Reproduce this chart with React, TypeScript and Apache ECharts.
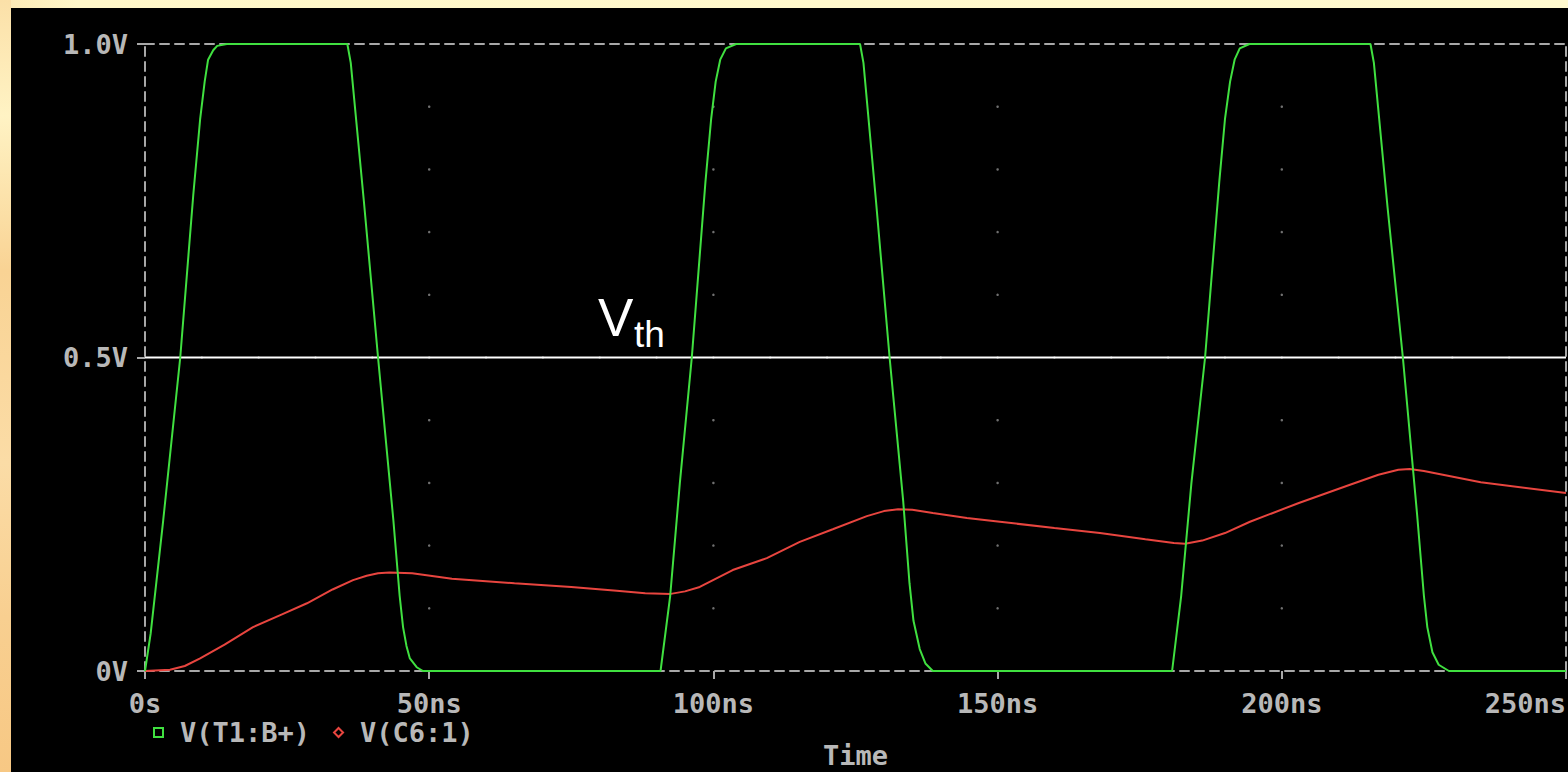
import { useEffect, useRef } from "react";
import * as echarts from "echarts";

// ---- data ----
const timeTicks = [0, 50, 100, 150, 200, 250]; // ns
const voltTicks = [0, 0.5, 1.0]; // V
const gridTimes = [50, 100, 150, 200];
const gridVolts = [0.1, 0.2, 0.3, 0.4, 0.6, 0.7, 0.8, 0.9];
const thresholdDotTimes = [10, 20, 30, 40, 50, 60, 70, 80, 90, 100, 110, 120, 130, 140, 150, 160, 170, 180, 190, 200, 210, 220, 230, 240];
const vth = 0.5;

const nameT1 = "V(T1:B+)";
const nameC6 = "V(C6:1)";

// V(T1:B+) [time ns, volts]
const vT1: [number, number][] = [
  [0, 0], [1, 0.06], [3.2, 0.24], [6.2, 0.5], [8.5, 0.76], [9.7, 0.88], [10.5, 0.94], [11.1, 0.975], [12, 0.99], [12.7, 0.997], [14.4, 1],
  [35.6, 1], [36.2, 0.97], [38.5, 0.75], [41, 0.5], [43.7, 0.24], [44.8, 0.12], [45.4, 0.07], [46, 0.04], [46.6, 0.02], [47.8, 0.006], [48.9, 0],
  [90.7, 0], [92.4, 0.12], [94.1, 0.3], [96.2, 0.5], [98.6, 0.78], [99.6, 0.88], [100.4, 0.94], [101.2, 0.975], [102.2, 0.993], [104, 1],
  [125.8, 1], [126.4, 0.97], [128.6, 0.75], [131, 0.5], [133.4, 0.27], [134.5, 0.14], [135.2, 0.08], [136.3, 0.035], [137.3, 0.012], [138.6, 0],
  [180.7, 0], [182.3, 0.12], [184.1, 0.3], [186.5, 0.5], [189, 0.78], [190, 0.88], [190.9, 0.94], [191.7, 0.975], [192.6, 0.993], [194.3, 1],
  [215.6, 1], [216.2, 0.97], [218.6, 0.74], [221.3, 0.5], [223.8, 0.25], [225, 0.12], [225.6, 0.07], [226.5, 0.03], [227.6, 0.01], [229.4, 0],
  [250, 0],
];

// V(C6:1) [time ns, volts]
const vC6: [number, number][] = [
  [0, 0], [4.4, 0.002], [7, 0.008], [9.7, 0.02], [14, 0.042], [19, 0.07], [24, 0.09], [28.5, 0.108], [33, 0.13], [36.6, 0.145],
  [39, 0.152], [41, 0.156], [43, 0.157], [47, 0.156], [54, 0.147], [65, 0.14], [75, 0.134], [83, 0.128], [88, 0.124], [92.5, 0.123],
  [95, 0.127], [97.6, 0.134], [103.4, 0.161], [109.4, 0.18], [115.2, 0.206], [121, 0.226], [127, 0.247], [130, 0.255], [132.5, 0.258],
  [135, 0.257], [138.6, 0.252], [144.6, 0.244], [150.4, 0.238], [160, 0.228], [168, 0.22], [176, 0.21], [181, 0.204], [183, 0.203],
  [186, 0.208], [190, 0.22], [194.4, 0.238], [203, 0.268], [212, 0.297], [217, 0.313], [220.5, 0.321], [222.5, 0.322], [225, 0.319],
  [235, 0.301], [250, 0.284],
];

const GREEN = "#40e040";
const RED = "#e8453f";
const FRAME = "#a8a8a8";
const LABEL = "#b8b8b8";
const MONO = "'DejaVu Sans Mono', 'Liberation Mono', monospace";

export default function App() {
  const ref = useRef<HTMLDivElement>(null);

  useEffect(() => {
    document.body.style.margin = "0";
    if (!ref.current) return;
    const chart = echarts.init(ref.current, undefined, { renderer: "svg" });

    const dots: [number, number][] = [];
    gridTimes.forEach((t) => gridVolts.forEach((v) => dots.push([t, v])));
    thresholdDotTimes.forEach((t) => dots.push([t, vth]));

    const labelStyle = { color: LABEL, fontFamily: MONO, fontSize: 27, fontWeight: "bold" as const };
    const dashed = { color: FRAME, width: 2, type: [9, 6] as any };

    chart.setOption({
      animation: false,
      backgroundColor: "#000000",
      grid: { left: 145, right: 2, top: 44, bottom: 101, containLabel: false, outerBoundsMode: "none" },
      xAxis: [
        {
          type: "value",
          min: timeTicks[0],
          max: timeTicks[timeTicks.length - 1],
          interval: 50,
          position: "bottom",
          axisLine: { show: true, onZero: false, lineStyle: dashed },
          axisTick: { show: true, length: 8, lineStyle: { color: FRAME, width: 2 } },
          axisLabel: {
            ...labelStyle,
            margin: 19,
            alignMaxLabel: "right",
            formatter: (v: number) => (v === 0 ? "0s" : `${v}ns`),
          },
          splitLine: { show: false },
          name: "Time",
          nameLocation: "middle",
          nameGap: 71,
          nameTextStyle: { ...labelStyle, lineHeight: 27 },
        },
        {
          type: "value",
          min: timeTicks[0],
          max: timeTicks[timeTicks.length - 1],
          interval: 50,
          position: "top",
          axisLine: { show: true, onZero: false, lineStyle: dashed },
          axisTick: { show: false },
          axisLabel: { show: false },
          splitLine: { show: false },
        },
      ],
      yAxis: [
        {
          type: "value",
          min: voltTicks[0],
          max: voltTicks[voltTicks.length - 1],
          interval: 0.5,
          position: "left",
          axisLine: { show: true, onZero: false, lineStyle: dashed },
          axisTick: { show: true, length: 8, lineStyle: { color: FRAME, width: 2 } },
          axisLabel: {
            ...labelStyle,
            margin: 17,
            formatter: (v: number) => (v === 0 ? "0V" : `${v.toFixed(1)}V`),
          },
          splitLine: { show: false },
        },
        {
          type: "value",
          min: voltTicks[0],
          max: voltTicks[voltTicks.length - 1],
          interval: 0.5,
          position: "right",
          axisLine: { show: true, onZero: false, lineStyle: dashed },
          axisTick: { show: false },
          axisLabel: { show: false },
          splitLine: { show: false },
        },
      ],
      legend: {
        left: 148,
        top: 714,
        itemWidth: 9,
        itemHeight: 9,
        itemGap: 23,
        textStyle: { ...labelStyle, padding: [0, 0, 0, 12] },
        data: [
          { name: nameT1, icon: "rect", itemStyle: { color: "transparent", borderColor: GREEN, borderWidth: 2 } },
          { name: nameC6, icon: "diamond", itemStyle: { color: "transparent", borderColor: RED, borderWidth: 2 } },
        ],
      },
      series: [
        {
          type: "scatter",
          data: dots,
          symbol: "circle",
          symbolSize: 2.5,
          itemStyle: { color: "#8c8c8c" },
          silent: true,
          z: 1,
        },
        {
          type: "line",
          data: [[timeTicks[0], vth], [timeTicks[timeTicks.length - 1], vth]],
          symbol: "none",
          lineStyle: { color: "#ffffff", width: 2 },
          silent: true,
          z: 2,
        },
        {
          name: nameC6,
          type: "line",
          data: vC6,
          symbol: "none",
          color: RED,
          lineStyle: { color: RED, width: 2 },
          z: 3,
        },
        {
          name: nameT1,
          type: "line",
          data: vT1,
          symbol: "none",
          color: GREEN,
          lineStyle: { color: GREEN, width: 2 },
          z: 4,
        },
      ],
      graphic: [
        {
          type: "rect",
          shape: { x: 0, y: 0, width: 1568, height: 8 },
          style: {
            fill: new echarts.graphic.LinearGradient(0, 0, 1, 0, [
              { offset: 0, color: "#fde9b4" },
              { offset: 0.05, color: "#fff7c9" },
              { offset: 1, color: "#fff9cf" },
            ]),
          },
          z: 100,
        },
        {
          type: "rect",
          shape: { x: 0, y: 0, width: 11, height: 772 },
          style: {
            fill: new echarts.graphic.LinearGradient(0, 0, 0, 1, [
              { offset: 0, color: "#fbe0a8" },
              { offset: 0.15, color: "#fff3c4" },
              { offset: 0.35, color: "#f9d394" },
              { offset: 0.6, color: "#fbdca6" },
              { offset: 0.8, color: "#f8cf90" },
              { offset: 1, color: "#f7c884" },
            ]),
          },
          z: 100,
        },
        {
          type: "text",
          x: 598,
          y: 317,
          style: {
            text: "V",
            fill: "#ffffff",
            font: "53px 'Liberation Sans', Arial, sans-serif",
            textAlign: "left",
            textVerticalAlign: "middle",
          },
          z: 100,
        },
        {
          type: "text",
          x: 634,
          y: 334,
          style: {
            text: "th",
            fill: "#ffffff",
            font: "37px 'Liberation Sans', Arial, sans-serif",
            textAlign: "left",
            textVerticalAlign: "middle",
          },
          z: 100,
        },
      ],
    });

    return () => chart.dispose();
  }, []);

  return <div ref={ref} style={{ width: 1568, height: 772 }} />;
}
